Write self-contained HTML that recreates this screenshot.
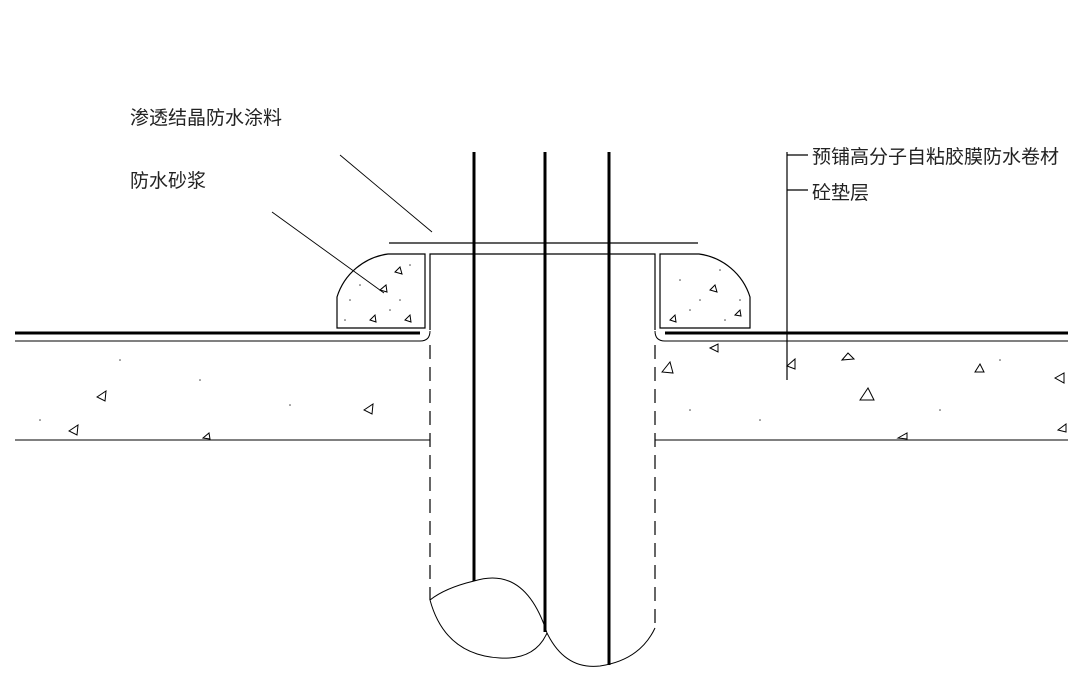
<!DOCTYPE html>
<html><head><meta charset="utf-8"><style>
html,body{margin:0;padding:0;background:#fff;}
svg{display:block}
text{font-family:"Liberation Sans","Noto Sans CJK SC",sans-serif;font-size:19px;fill:#222;}
</style></head><body>
<svg width="1080" height="686" viewBox="0 0 1080 686">
<g stroke="#000" fill="none">
<!-- top plate -->
<line x1="389" y1="243" x2="698" y2="243" stroke-width="1.2"/>
<!-- pile top -->
<polyline points="430,330 430,254 655,254 655,330" stroke-width="1.2"/>
<!-- mortar blocks -->
<path d="M337,328 L337,297 A62,62 0 0 1 388,254 L425,254 L425,328 Z" stroke-width="1.2" fill="#fff"/>
<path d="M660,328 L660,254 L699,254 A62,62 0 0 1 750,297 L750,328 Z" stroke-width="1.2"/>
<!-- membranes -->
<line x1="15" y1="333" x2="420" y2="333" stroke-width="3"/>
<line x1="665" y1="333" x2="1068" y2="333" stroke-width="3"/>
<path d="M15,341 L420,341 Q430,341 430,331" stroke-width="1"/>
<path d="M1068,341 L665,341 Q655,341 655,331" stroke-width="1"/>
<!-- concrete bottom -->
<line x1="15" y1="440" x2="430" y2="440" stroke-width="1"/>
<line x1="655" y1="440" x2="1068" y2="440" stroke-width="1"/>
<!-- dashed pile -->
<line x1="430" y1="345" x2="430" y2="600" stroke-width="1.2" stroke-dasharray="14,8"/>
<line x1="655" y1="345" x2="655" y2="628" stroke-width="1.2" stroke-dasharray="14,8"/>
<!-- rebars -->
<line x1="474" y1="152" x2="474" y2="581" stroke-width="3"/>
<line x1="545" y1="152" x2="545" y2="632" stroke-width="3"/>
<line x1="609" y1="152" x2="609" y2="665" stroke-width="3"/>
<!-- bottom curves -->
<path d="M430,600 Q445,588 474,581 Q525,565 547,633" stroke-width="1"/>
<path d="M430,600 Q445,655 500,658 Q535,660 547,633" stroke-width="1"/>
<path d="M547,633 Q565,670 600,666 Q640,660 655,628" stroke-width="1"/>
<!-- leaders -->
<line x1="340" y1="155" x2="432" y2="232" stroke-width="0.9"/>
<line x1="272" y1="212" x2="384" y2="293" stroke-width="0.9"/>
<line x1="787" y1="152" x2="787" y2="380" stroke-width="1.2"/>
<line x1="787" y1="155" x2="808" y2="155" stroke-width="1.2"/>
<line x1="787" y1="190" x2="808" y2="190" stroke-width="1.2"/>
<!-- aggregate triangles -->
<g stroke-width="1">
<path d="M97,397 l9,-6 l-1,10 z"/><path d="M69,431 l9,-6 l-1,10 z"/><path d="M364,410 l9,-6 l-1,10 z"/>
<path d="M203,438 l6,-5 l1,6 z"/><path d="M662,372 l8,-10 l3,11 z"/><path d="M710,348 l8,-4 l0,8 z"/>
<path d="M787,366 l8,-7 l0,10 z"/><path d="M842,360 l6,-7 l6,6 z"/><path d="M860,400 l8,-12 l6,12 z"/>
<path d="M975,372 l5,-8 l4,8 z"/><path d="M1055,378 l9,-5 l0,10 z"/><path d="M898,438 l9,-5 l0,6 z"/>
<path d="M1058,430 l8,-6 l0,8 z"/>
<path d="M380,290 l6,-5 l1,7 z"/><path d="M395,272 l5,-5 l2,7 z"/><path d="M370,320 l5,-5 l1,7 z"/>
<path d="M405,320 l5,-5 l1,7 z"/><path d="M710,290 l5,-5 l2,7 z"/><path d="M670,320 l5,-5 l1,7 z"/><path d="M735,315 l5,-5 l1,6 z"/>
</g>
</g>
<g fill="#444">
<circle cx="350" cy="300" r="0.8"/><circle cx="360" cy="285" r="0.8"/><circle cx="400" cy="300" r="0.8"/><circle cx="410" cy="265" r="0.8"/>
<circle cx="390" cy="310" r="0.8"/><circle cx="345" cy="320" r="0.8"/><circle cx="680" cy="280" r="0.8"/><circle cx="700" cy="300" r="0.8"/>
<circle cx="720" cy="270" r="0.8"/><circle cx="690" cy="310" r="0.8"/><circle cx="740" cy="300" r="0.8"/><circle cx="725" cy="320" r="0.8"/>
<circle cx="120" cy="360" r="0.8"/><circle cx="200" cy="380" r="0.8"/><circle cx="290" cy="405" r="0.8"/><circle cx="40" cy="420" r="0.8"/>
<circle cx="760" cy="420" r="0.8"/><circle cx="940" cy="410" r="0.8"/><circle cx="1000" cy="360" r="0.8"/><circle cx="690" cy="410" r="0.8"/>
</g>
<text x="130" y="124">渗透结晶防水涂料</text>
<text x="130" y="187">防水砂浆</text>
<text x="812" y="163">预铺高分子自粘胶膜防水卷材</text>
<text x="812" y="199">砼垫层</text>
</svg>
</body></html>
